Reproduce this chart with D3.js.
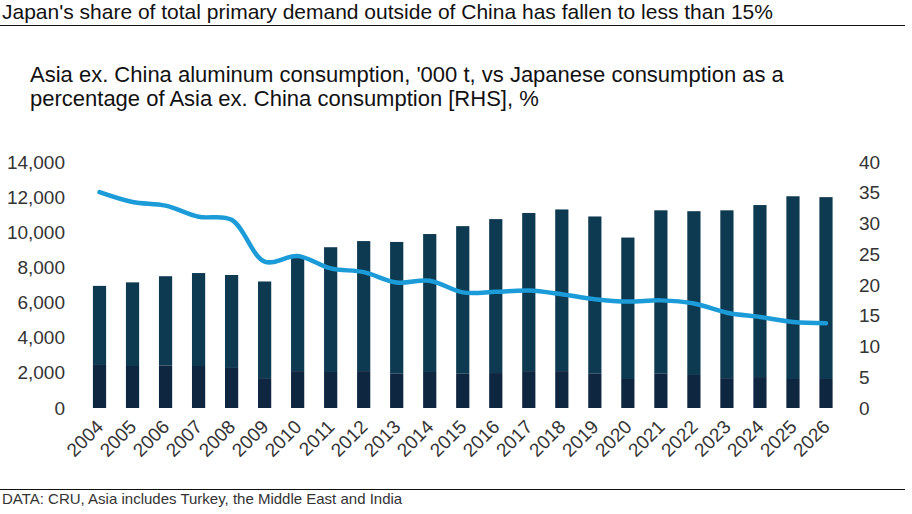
<!DOCTYPE html>
<html>
<head>
<meta charset="utf-8">
<script src="https://cdn.jsdelivr.net/npm/d3@7"></script>
<style>
  body { margin: 0; background: #fff; }
  svg { display: block; font-family: "Liberation Sans", Arial, sans-serif; }
</style>
</head>
<body>
<svg id="chart"></svg>
<script>
// data
const years = ["2004", "2005", "2006", "2007", "2008", "2009", "2010", "2011", "2012", "2013", "2014",
  "2015", "2016", "2017", "2018", "2019", "2020", "2021", "2022", "2023", "2024", "2025", "2026"];
// total Asia ex. China consumption, '000 t
const asiaTotal = [6950, 7150, 7500, 7680, 7570, 7200, 8550, 9150, 9500, 9450, 9900,
  10350, 10750, 11100, 11300, 10900, 9700, 11250, 11200, 11250, 11550, 12050, 12000];
// Japanese consumption, '000 t
const japan = [2450, 2390, 2420, 2390, 2280, 1700, 2100, 2050, 2100, 1950, 2050,
  1950, 1990, 2100, 2100, 1950, 1650, 1950, 1880, 1700, 1760, 1650, 1650];
// Japan share of Asia ex. China, %
const japanShare = [35.1, 33.5, 32.9, 31.1, 30.6, 23.8, 24.7, 22.7, 22.1, 20.4, 20.7,
  18.8, 18.9, 19.1, 18.5, 17.7, 17.3, 17.5, 17.0, 15.5, 14.8, 14.0, 13.8];
const leftTicks = [0, 2000, 4000, 6000, 8000, 10000, 12000, 14000];
const rightTicks = [0, 5, 10, 15, 20, 25, 30, 35, 40];

const width = 912;
const height = 514;
const svg = d3.select("#chart").attr("width", width).attr("height", height);

const colTop = "#0e3a51";
const colBottom = "#0f2641";
const colLine = "#1b9bd7";
const textCol = "#333";

// titles
svg.append("text")
  .attr("x", 2).attr("y", 19)
  .attr("font-size", "21px").attr("fill", "#111")
  .text("Japan's share of total primary demand outside of China has fallen to less than 15%");
svg.append("line")
  .attr("x1", 0).attr("x2", 905).attr("y1", 25.5).attr("y2", 25.5)
  .attr("stroke", "#111").attr("stroke-width", 1);

const sub = svg.append("text")
  .attr("x", 30).attr("font-size", "22px").attr("fill", "#111");
sub.append("tspan").attr("x", 30).attr("y", 82)
  .text("Asia ex. China aluminum consumption, '000 t, vs Japanese consumption as a");
sub.append("tspan").attr("x", 30).attr("y", 106)
  .text("percentage of Asia ex. China consumption [RHS], %");

// scales
const x = d3.scaleBand()
  .domain(years)
  .range([83, 842.5])
  .paddingInner(0.6)
  .paddingOuter(0.3);

const yL = d3.scaleLinear().domain([0, 14000]).range([408, 162]);
const yR = d3.scaleLinear().domain([0, 40]).range([408, 162]);

// axes (labels only)
const axL = svg.append("g")
  .attr("transform", "translate(75,0)")
  .call(d3.axisLeft(yL).tickValues(leftTicks).tickSize(0).tickPadding(10).tickFormat(d3.format(",")));
axL.select(".domain").remove();
axL.selectAll("text").attr("font-size", "19px").attr("fill", textCol)
  .style("font-family", "'Liberation Sans', Arial, sans-serif");

const axR = svg.append("g")
  .attr("transform", "translate(849,0)")
  .call(d3.axisRight(yR).tickValues(rightTicks).tickSize(0).tickPadding(10));
axR.select(".domain").remove();
axR.selectAll("text").attr("font-size", "19px").attr("fill", textCol)
  .style("font-family", "'Liberation Sans', Arial, sans-serif");

const axB = svg.append("g")
  .attr("transform", "translate(0,408)")
  .call(d3.axisBottom(x).tickSize(0).tickPadding(0));
axB.select(".domain").remove();
axB.selectAll("text")
  .attr("font-size", "19px").attr("fill", textCol)
  .style("font-family", "'Liberation Sans', Arial, sans-serif")
  .attr("text-anchor", "end")
  .attr("dy", null)
  .attr("y", 0)
  .attr("transform", "translate(5,20) rotate(-45)");

// stacked bars
const bars = svg.append("g");
bars.selectAll("rect.rest")
  .data(years)
  .join("rect")
  .attr("class", "rest")
  .attr("x", d => x(d))
  .attr("width", x.bandwidth())
  .attr("y", (d, i) => yL(asiaTotal[i]))
  .attr("height", (d, i) => yL(japan[i]) - yL(asiaTotal[i]))
  .attr("fill", colTop);

bars.selectAll("rect.japan")
  .data(years)
  .join("rect")
  .attr("class", "japan")
  .attr("x", d => x(d))
  .attr("width", x.bandwidth())
  .attr("y", (d, i) => yL(japan[i]))
  .attr("height", (d, i) => yL(0) - yL(japan[i]))
  .attr("fill", colBottom);

// share line
const line = d3.line()
  .x((d, i) => x(years[i]) + x.bandwidth() / 2)
  .y(d => yR(d))
  .curve(d3.curveCatmullRom.alpha(0.5));

svg.append("path")
  .datum(japanShare)
  .attr("d", line)
  .attr("fill", "none")
  .attr("stroke", colLine)
  .attr("stroke-width", 4.5)
  .attr("stroke-linecap", "round")
  .attr("stroke-linejoin", "round");

// footer
svg.append("line")
  .attr("x1", 0).attr("x2", 905).attr("y1", 489.5).attr("y2", 489.5)
  .attr("stroke", "#111").attr("stroke-width", 1);
svg.append("text")
  .attr("x", 2).attr("y", 504)
  .attr("font-size", "15px").attr("fill", "#333")
  .text("DATA: CRU, Asia includes Turkey, the Middle East and India");
</script>
</body>
</html>
